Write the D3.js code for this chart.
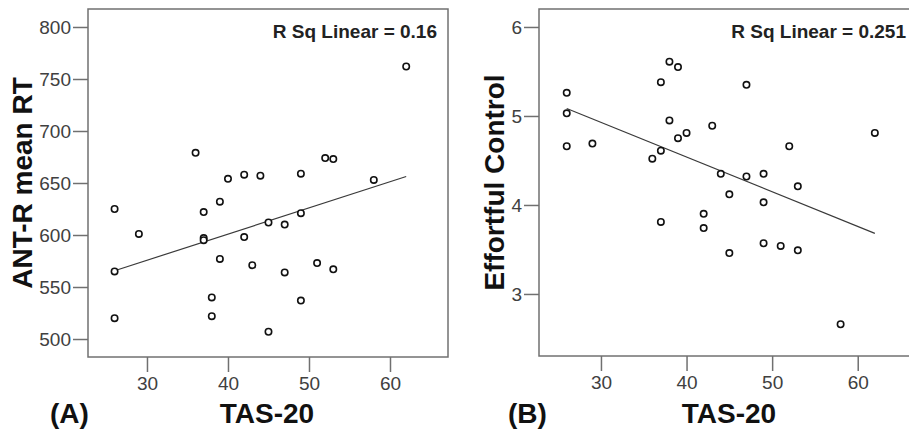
<!DOCTYPE html>
<html>
<head>
<meta charset="utf-8">
<script src="https://cdn.jsdelivr.net/npm/d3@7/dist/d3.min.js"></script>
<style>
  html, body { margin: 0; padding: 0; background: #fff; }
  svg { display: block; font-family: "Liberation Sans", Arial, Helvetica, sans-serif; }
</style>
</head>
<body>
<svg id="chart" width="909" height="429"></svg>
<script>
// ---- data ----
const tas20 = [26, 26, 26, 29, 36, 37, 37, 37, 38, 38, 39, 39, 40, 42, 42, 43, 44, 45, 45, 47, 47, 49, 49, 49, 51, 52, 53, 53, 58, 62];
// panel A: ANT-R mean RT (paired with tas20 by index)
const antRT = [625, 565, 520, 601, 679, 622, 597, 595, 540, 522, 632, 577, 654, 658, 598, 571, 657, 612, 507, 610, 564, 659, 621, 537, 573, 674, 673, 567, 653, 762];
// panel B: Effortful Control (paired with tasB by index)
const tasB = [26, 26, 26, 29, 38, 39, 37, 47, 38, 43, 40, 39, 62, 52, 37, 36, 44, 47, 49, 53, 45, 49, 42, 37, 42, 45, 49, 51, 53, 58];
const effCtrl = [5.26, 5.03, 4.66, 4.69, 5.61, 5.55, 5.38, 5.35, 4.95, 4.89, 4.81, 4.75, 4.81, 4.66, 4.61, 4.52, 4.35, 4.32, 4.35, 4.21, 4.12, 4.03, 3.90, 3.81, 3.74, 3.46, 3.57, 3.54, 3.49, 2.66];
const xTicks = [30, 40, 50, 60];
const yTicksA = [500, 550, 600, 650, 700, 750, 800];
const yTicksB = [3, 4, 5, 6];
const rsqLabels = ["R Sq Linear = 0.16", "R Sq Linear = 0.251"];
const yTitles = ["ANT-R mean RT", "Effortful Control"];
const xTitle = "TAS-20";
const panelLabels = ["(A)", "(B)"];

const svg = d3.select("#chart");

function fit(xs, ys) {
  const mx = d3.mean(xs), my = d3.mean(ys);
  let sxy = 0, sxx = 0;
  xs.forEach((x, i) => { sxy += (x - mx) * (ys[i] - my); sxx += (x - mx) * (x - mx); });
  const b = sxy / sxx;
  return { a: my - b * mx, b };
}

function panel(cfg) {
  const g = svg.append("g");
  const x = d3.scaleLinear().domain(cfg.xDomain).range([cfg.left, cfg.right]);
  const y = d3.scaleLinear().domain(cfg.yDomain).range([cfg.bottom, cfg.top]);

  // frame
  g.append("rect")
    .attr("x", cfg.left).attr("y", cfg.top)
    .attr("width", cfg.right - cfg.left).attr("height", cfg.bottom - cfg.top)
    .attr("fill", "none").attr("stroke", "#707070").attr("stroke-width", 1.5);

  // y axis
  const ya = g.append("g").attr("transform", `translate(${cfg.left},0)`)
    .call(d3.axisLeft(y).tickValues(cfg.yTicks).tickSize(15).tickPadding(2).tickFormat(d3.format("d")));
  ya.select(".domain").remove();
  ya.selectAll(".tick line").attr("stroke", "#707070").attr("stroke-width", 1.5);
  ya.selectAll(".tick text").attr("font-size", 19).attr("fill", "#404040").attr("font-family", null);

  // x axis
  const xa = g.append("g").attr("transform", `translate(0,${cfg.bottom})`)
    .call(d3.axisBottom(x).tickValues(xTicks).tickSize(15).tickPadding(5).tickFormat(d3.format("d")));
  xa.select(".domain").remove();
  xa.selectAll(".tick line").attr("stroke", "#707070").attr("stroke-width", 1.5);
  xa.selectAll(".tick text").attr("font-size", 19).attr("fill", "#404040").attr("font-family", null);

  // fit line
  const f = fit(cfg.xs, cfg.ys);
  const x0 = d3.min(cfg.xs), x1 = d3.max(cfg.xs);
  g.append("line")
    .attr("x1", x(x0)).attr("y1", y(f.a + f.b * x0))
    .attr("x2", x(x1)).attr("y2", y(f.a + f.b * x1))
    .attr("stroke", "#3a3a3a").attr("stroke-width", 1.2);

  // points
  g.selectAll("circle.pt").data(cfg.xs.map((d, i) => [d, cfg.ys[i]]))
    .join("circle").attr("class", "pt")
    .attr("cx", d => x(d[0])).attr("cy", d => y(d[1]))
    .attr("r", 3.2).attr("fill", "#fff").attr("stroke", "#111").attr("stroke-width", 1.6);

  // R sq label
  g.append("text").attr("x", cfg.rsqX).attr("y", 38).attr("text-anchor", "end")
    .attr("font-size", 19).attr("font-weight", "bold").attr("fill", "#222").text(cfg.rsq);

  // y title
  g.append("text")
    .attr("transform", `translate(${cfg.yTitleX},${(cfg.top + cfg.bottom) / 2}) rotate(-90)`)
    .attr("text-anchor", "middle").attr("font-size", 28).attr("font-weight", "bold").attr("fill", "#111")
    .text(cfg.yTitle);

  // x title
  g.append("text").attr("x", cfg.xTitleX).attr("y", 423).attr("text-anchor", "middle")
    .attr("font-size", 28).attr("font-weight", "bold").attr("fill", "#111").text(xTitle);

  // panel label
  g.append("text").attr("x", cfg.labelX).attr("y", 423).attr("text-anchor", "start")
    .attr("font-size", 28).attr("font-weight", "bold").attr("fill", "#111").text(cfg.label);
}

panel({
  left: 88, right: 448, top: 9, bottom: 357,
  xDomain: [22.72, 67.16], yDomain: [482.7, 817.3], yTicks: yTicksA,
  xs: tas20, ys: antRT, rsq: rsqLabels[0], rsqX: 437,
  yTitle: yTitles[0], yTitleX: 32, xTitleX: 267, label: panelLabels[0], labelX: 50
});

panel({
  left: 539, right: 919, top: 9, bottom: 356,
  xDomain: [22.76, 67.16], yDomain: [2.303, 6.202], yTicks: yTicksB,
  xs: tasB, ys: effCtrl, rsq: rsqLabels[1], rsqX: 906,
  yTitle: yTitles[1], yTitleX: 504, xTitleX: 729, label: panelLabels[1], labelX: 508
});
</script>
</body>
</html>
